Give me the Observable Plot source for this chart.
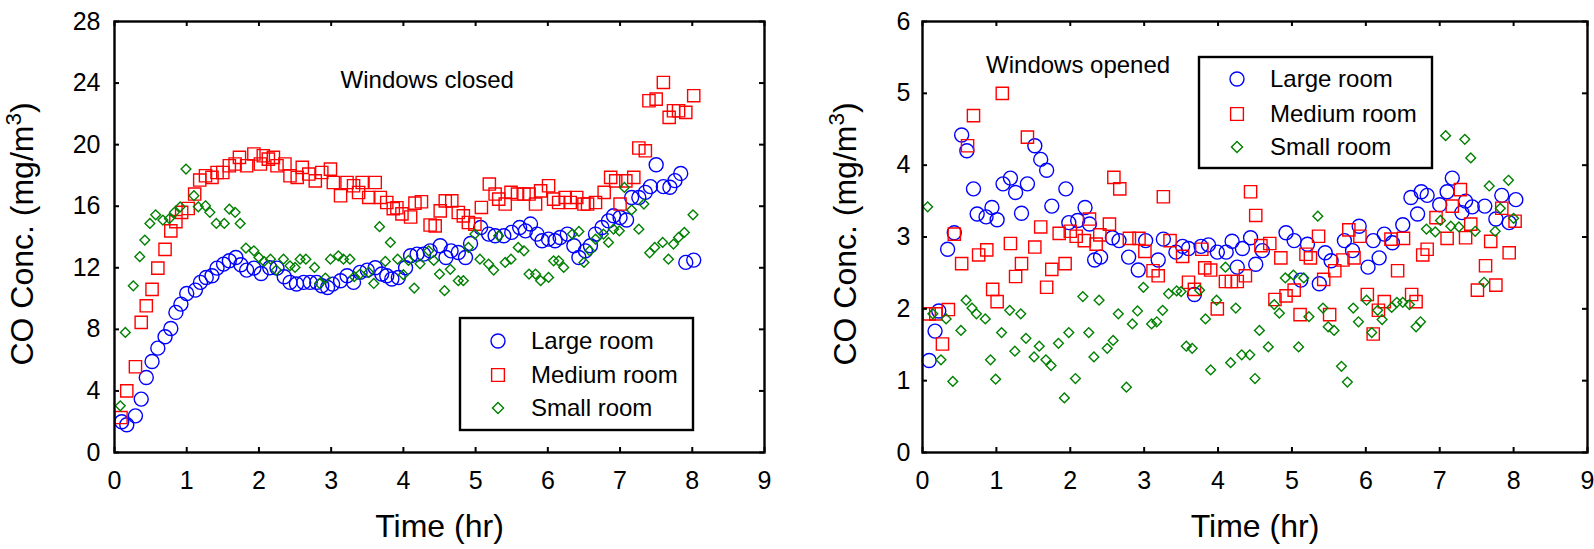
<!DOCTYPE html>
<html>
<head>
<meta charset="utf-8">
<script src="https://cdn.jsdelivr.net/npm/d3@7"></script>
<script src="https://cdn.jsdelivr.net/npm/@observablehq/plot@0.6"></script>
<style>
  html, body { margin: 0; padding: 0; background: #fff; }
  #wrap { display: flex; width: 1594px; height: 549px; overflow: visible; }
  #wrap svg { overflow: visible; }
</style>
</head>
<body>
<div id="wrap"></div>
<script>
// ---------- tick labels / categories ----------
const xTicks = [0, 1, 2, 3, 4, 5, 6, 7, 8, 9];
const closedYTicks = [0, 4, 8, 12, 16, 20, 24, 28];
const openedYTicks = [0, 1, 2, 3, 4, 5, 6];
const seriesNames = ["Large room", "Medium room", "Small room"];
const seriesColors = ["#0000ff", "#ff0000", "#008000"];
const seriesSymbols = ["circle", "square", "diamond2"];
const xLabel = "Time (hr)";
const yLabel = "CO Conc. (mg/m3)";
const closedNote = "Windows closed";
const openedNote = "Windows opened";

// ---------- Windows closed ----------
const closedLargeT = [0.10,0.17,0.29,0.37,0.44,0.52,0.60,0.70,0.78,0.85,0.92,1.00,1.12,1.19,1.27,1.35,1.42,1.51,1.59,1.68,1.75,1.83,1.93,2.03,2.15,2.25,2.35,2.43,2.52,2.62,2.71,2.80,2.87,2.95,3.02,3.13,3.22,3.31,3.40,3.50,3.61,3.70,3.77,3.84,3.93,4.03,4.10,4.19,4.28,4.37,4.51,4.59,4.66,4.76,4.86,4.93,5.07,5.18,5.27,5.39,5.50,5.61,5.69,5.76,5.85,5.92,6.01,6.10,6.17,6.27,6.36,6.43,6.52,6.59,6.66,6.75,6.84,6.91,7.00,7.09,7.16,7.26,7.35,7.42,7.50,7.60,7.69,7.76,7.84,7.91,8.02];
const closedLargeV = [2.0,1.8,2.38,3.47,4.87,5.91,6.78,7.52,8.06,9.1,9.64,10.33,10.55,11.05,11.37,11.48,11.98,12.24,12.46,12.67,12.2,11.85,11.98,11.63,12.0,11.98,11.42,11.05,10.95,11.05,11.05,11.05,10.83,10.72,10.94,11.16,11.48,11.05,11.7,11.85,12.0,11.6,11.48,11.27,11.37,12.0,12.78,12.89,12.89,13.1,13.43,12.67,13.1,12.99,12.67,13.58,14.62,14.19,14.08,14.08,14.3,14.62,14.4,14.84,14.19,13.76,13.86,13.76,13.97,14.19,13.43,12.67,13.1,13.43,14.19,14.62,15.05,15.38,15.27,15.1,16.57,16.57,16.9,17.27,18.69,17.27,17.23,17.66,18.13,12.35,12.5];

const closedMediumT = [0.09,0.17,0.29,0.37,0.44,0.52,0.60,0.70,0.78,0.85,0.93,1.02,1.11,1.18,1.26,1.35,1.42,1.50,1.59,1.67,1.73,1.83,1.93,2.02,2.06,2.13,2.20,2.25,2.36,2.43,2.53,2.60,2.69,2.78,2.87,2.99,3.03,3.13,3.22,3.31,3.38,3.43,3.52,3.61,3.68,3.77,3.86,3.91,3.98,4.10,4.16,4.25,4.37,4.44,4.51,4.58,4.67,4.76,4.83,4.90,4.99,5.08,5.19,5.27,5.32,5.41,5.49,5.58,5.67,5.74,5.83,5.90,6.01,6.08,6.15,6.24,6.31,6.40,6.50,6.55,6.66,6.78,6.87,6.94,7.00,7.08,7.19,7.26,7.35,7.40,7.50,7.60,7.68,7.74,7.81,7.91,8.02];
const closedMediumV = [2.27,4.0,5.57,8.45,9.53,10.6,11.98,13.2,14.4,15.0,15.6,15.85,16.79,17.7,17.98,17.87,18.19,18.19,18.63,18.74,19.17,18.63,19.39,18.74,19.28,19.06,19.17,18.63,18.74,17.98,17.87,18.52,18.09,17.65,18.19,18.41,17.54,16.68,17.54,17.33,16.89,17.54,16.57,17.54,16.57,16.24,15.84,15.9,15.5,15.3,16.2,16.29,14.78,14.72,15.7,16.35,16.35,15.59,15.37,14.94,14.84,15.92,17.44,16.79,16.46,16.14,16.9,16.79,16.79,16.79,16.14,17.0,17.33,16.46,16.24,16.57,16.24,16.57,16.14,16.14,16.24,16.9,17.87,17.65,16.14,17.65,17.87,19.78,19.6,22.85,22.96,24.04,21.77,22.2,22.2,22.1,23.18];

const closedSmallT = [0.08,0.15,0.26,0.35,0.42,0.49,0.57,0.67,0.76,0.83,0.91,0.99,1.10,1.16,1.26,1.32,1.41,1.52,1.59,1.67,1.74,1.82,1.93,2.00,2.07,2.16,2.24,2.34,2.43,2.50,2.57,2.65,2.77,2.84,2.92,2.99,3.10,3.17,3.26,3.32,3.40,3.52,3.59,3.67,3.75,3.82,3.92,4.00,4.07,4.15,4.23,4.35,4.42,4.50,4.57,4.65,4.76,4.83,4.90,4.99,5.06,5.18,5.25,5.32,5.41,5.49,5.59,5.67,5.74,5.83,5.90,6.01,6.08,6.15,6.22,6.34,6.43,6.50,6.58,6.66,6.77,6.84,6.91,6.99,7.06,7.16,7.26,7.33,7.41,7.48,7.59,7.67,7.74,7.81,7.89,8.01];
const closedSmallV = [3.03,7.8,10.83,12.72,13.8,14.88,15.44,15.1,15.2,15.6,15.96,18.41,16.68,15.96,16.03,15.6,14.88,14.88,15.81,15.6,14.88,13.28,13.1,12.67,12.41,12.56,11.85,12.56,12.13,12.02,12.56,12.56,12.02,10.98,11.33,12.56,12.78,12.56,12.56,11.42,11.59,11.7,10.98,14.67,12.41,13.65,12.56,11.55,12.48,10.68,12.26,13.1,12.48,11.59,10.51,11.9,11.16,11.16,13.32,14.19,12.56,12.24,11.85,14.08,12.35,12.56,13.32,13.1,11.59,11.59,11.16,11.37,12.45,12.45,12.02,14.19,14.36,12.35,13.1,13.86,14.19,13.65,14.51,14.4,17.22,15.76,14.51,16.14,12.97,13.32,13.65,12.56,13.54,13.97,14.3,15.44];

// ---------- Windows opened ----------
const openedLargeT = [0.09,0.17,0.22,0.34,0.43,0.53,0.60,0.69,0.74,0.86,0.94,1.01,1.09,1.19,1.26,1.34,1.42,1.52,1.60,1.68,1.75,1.94,1.98,2.10,2.20,2.26,2.33,2.41,2.57,2.66,2.79,2.92,3.02,3.19,3.26,3.43,3.52,3.60,3.68,3.77,3.87,3.99,4.11,4.19,4.26,4.33,4.44,4.51,4.60,4.92,5.03,5.12,5.21,5.37,5.45,5.53,5.71,5.82,5.91,6.03,6.10,6.18,6.25,6.36,6.50,6.61,6.70,6.75,6.83,7.00,7.10,7.17,7.30,7.35,7.44,7.61,7.76,7.84,7.94,8.03];
const openedLargeV = [1.28,1.69,1.97,2.83,3.06,4.42,4.2,3.67,3.32,3.28,3.41,3.24,3.74,3.82,3.62,3.33,3.74,4.27,4.08,3.93,3.43,3.67,3.2,3.23,3.41,3.18,2.68,2.72,2.99,2.95,2.72,2.54,2.95,2.68,2.97,2.79,2.87,2.84,2.2,2.87,2.89,2.79,2.79,2.94,2.58,2.84,2.99,2.62,2.81,3.06,2.95,2.4,2.9,2.35,2.78,2.67,2.95,2.81,3.15,2.58,2.95,2.71,3.04,2.92,3.17,3.55,3.32,3.63,3.58,3.45,3.63,3.82,3.34,3.5,3.42,3.43,3.25,3.58,3.2,3.52];

const openedMediumT = [0.09,0.18,0.27,0.35,0.43,0.53,0.61,0.69,0.76,0.87,0.95,1.01,1.08,1.19,1.26,1.34,1.42,1.52,1.60,1.68,1.75,1.85,1.93,2.00,2.08,2.19,2.26,2.35,2.40,2.53,2.59,2.67,2.80,2.93,3.01,3.12,3.19,3.26,3.35,3.52,3.60,3.68,3.78,3.82,3.90,3.99,4.10,4.18,4.26,4.37,4.44,4.51,4.58,4.70,4.77,4.85,4.92,5.03,5.11,5.19,5.25,5.36,5.43,5.51,5.58,5.69,5.77,5.84,5.92,6.02,6.10,6.17,6.25,6.34,6.43,6.51,6.62,6.68,6.77,6.83,6.95,7.10,7.17,7.28,7.35,7.42,7.51,7.62,7.69,7.76,7.84,7.94,8.02];
const openedMediumV = [1.93,1.93,1.51,1.99,3.04,2.63,4.27,4.69,2.75,2.82,2.27,2.1,5.0,2.91,2.45,2.63,4.39,2.86,3.14,2.3,2.55,3.05,2.63,3.08,3.01,2.95,3.25,2.9,3.03,3.18,3.83,3.67,2.98,2.98,2.8,2.53,2.46,3.56,2.95,2.73,2.37,2.27,2.83,2.57,2.54,2.0,2.38,2.38,2.38,2.46,3.63,3.3,2.88,2.91,2.13,2.71,2.18,2.26,1.92,2.76,2.71,3.01,2.41,1.92,2.53,2.68,3.1,2.71,3.01,2.2,1.65,1.98,2.1,2.97,2.53,2.98,2.2,2.1,2.75,2.83,3.27,2.98,3.43,3.66,2.99,3.18,2.26,2.6,2.94,2.33,3.4,2.78,3.22];

const openedSmallT = [0.07,0.14,0.25,0.32,0.41,0.52,0.59,0.67,0.73,0.85,0.92,0.99,1.07,1.18,1.25,1.33,1.40,1.51,1.58,1.67,1.74,1.84,1.92,1.98,2.07,2.17,2.25,2.32,2.39,2.50,2.58,2.65,2.76,2.84,2.91,2.99,3.10,3.17,3.25,3.33,3.44,3.50,3.57,3.65,3.75,3.83,3.90,3.98,4.10,4.17,4.24,4.32,4.43,4.50,4.56,4.68,4.76,4.83,4.91,5.02,5.09,5.16,5.23,5.35,5.42,5.49,5.57,5.67,5.75,5.83,5.90,6.01,6.08,6.16,6.22,6.35,6.42,6.50,6.59,6.68,6.74,6.82,6.94,7.01,7.08,7.15,7.26,7.34,7.42,7.48,7.60,7.67,7.75,7.82,7.93,8.00];
const openedSmallV = [3.42,1.93,1.29,1.86,0.99,1.7,2.12,2.01,1.93,1.86,1.29,1.02,1.67,1.98,1.41,1.93,1.59,1.33,1.48,1.29,1.21,1.52,0.76,1.67,1.03,2.17,1.67,1.33,2.12,1.45,1.56,1.93,0.91,1.79,1.97,2.3,1.79,1.82,1.98,2.21,2.25,2.24,1.48,1.45,2.26,1.86,1.15,2.12,2.58,1.25,2.01,1.36,1.36,1.03,1.7,1.47,2.06,1.94,2.43,2.47,1.47,2.43,1.89,3.29,2.01,1.75,1.7,1.2,0.98,2.01,1.82,2.12,1.67,1.98,1.85,2.02,2.09,2.09,2.06,1.75,1.82,3.11,3.07,3.23,4.41,3.15,3.14,4.36,4.1,3.08,2.37,3.71,3.08,3.4,3.79,3.26];

// ---------- build ----------
const font = "'Liberation Sans', Arial, Helvetica, sans-serif";
const rows = (T, V) => T.map((t, i) => ({t, v: V[i]}));
const dotSizes = [7, 6.9, 4.4];

function panel(cfg) {
  const {width, height, ml, mr, mt, mb, yMax, yTicks, series, note, noteAt, yDx} = cfg;
  const fw = width - ml - mr, fh = height - mt - mb;
  const marks = [];
  series.forEach((s, i) => {
    marks.push(Plot.dot(s, {x: "t", y: "v", symbol: () => seriesSymbols[i], r: dotSizes[i],
      stroke: seriesColors[i], fill: "none", strokeWidth: 1.4}));
  });
  marks.push(
    Plot.ruleX(xTicks, {x: d => d, insetTop: fh - 5, stroke: "black", strokeWidth: 2}),
    Plot.ruleX(xTicks, {x: d => d, insetBottom: fh - 5, stroke: "black", strokeWidth: 2}),
    Plot.ruleY(yTicks, {y: d => d, insetRight: fw - 5, stroke: "black", strokeWidth: 2}),
    Plot.ruleY(yTicks, {y: d => d, insetLeft: fw - 5, stroke: "black", strokeWidth: 2}),
    Plot.frame({stroke: "black", strokeWidth: 2.4}),
    Plot.axisX(xTicks, {tickSize: 0, tickPadding: 19, fontSize: 25, fill: "black", label: null, tickFormat: d => String(d)}),
    Plot.axisY(yTicks, {tickSize: 0, tickPadding: cfg.yPad, fontSize: 25, fill: "black", label: null, tickFormat: d => String(d)}),
    Plot.text([xLabel], {frameAnchor: "bottom", text: d => d, dy: 84, lineAnchor: "bottom", fontSize: 32, fill: "black"}),
    Plot.text([yLabel], {frameAnchor: "left", text: d => d, rotate: -90, dx: yDx, dy: -3, lineAnchor: "bottom", textAnchor: "middle", fontSize: 32, fill: "black"}),
    Plot.text([note], {x: noteAt[0], y: noteAt[1], text: d => d, textAnchor: "start", lineAnchor: "bottom", fontSize: 24, fill: "black"})
  );
  const svg = Plot.plot({
    width, height, marginLeft: ml, marginRight: mr, marginTop: mt, marginBottom: mb,
    style: {fontFamily: font, color: "black", background: "white", overflow: "visible"},
    x: {domain: [0, 9]},
    y: {domain: [0, yMax]},
    marks
  });
  // superscript on the y label
  d3.select(svg).selectAll("text").filter(function() { return this.textContent === yLabel; })
    .each(function() {
      const el = d3.select(this);
      el.text(null);
      el.append("tspan").text(yLabel.slice(0, -2));
      el.append("tspan").attr("baseline-shift", "super").attr("font-size", "0.7em").text(yLabel.slice(-2, -1));
      el.append("tspan").text(yLabel.slice(-1));
    });
  // legend
  const L = cfg.legend;
  const g = d3.select(svg).append("g").attr("font-family", font).attr("font-size", 24).attr("text-anchor", "start");
  g.append("rect").attr("x", L.x0).attr("y", L.y0).attr("width", L.x1 - L.x0).attr("height", L.y1 - L.y0)
    .attr("fill", "white").attr("stroke", "black").attr("stroke-width", 2.4);
  const symTypes = [d3.symbolCircle, d3.symbolSquare, d3.symbolDiamond2];
  const legR = [7, 7.2, 5];
  seriesNames.forEach((name, i) => {
    g.append("path").attr("transform", `translate(${L.mx},${L.rows[i]})`)
      .attr("d", d3.symbol(symTypes[i], Math.PI * legR[i] * legR[i])())
      .attr("fill", "none").attr("stroke", seriesColors[i]).attr("stroke-width", 1.4);
    g.append("text").attr("x", L.tx).attr("y", L.rows[i]).attr("dy", "0.35em")
      .attr("text-anchor", "start").attr("fill", "black").text(name);
  });
  return svg;
}

const wrap = document.getElementById("wrap");
wrap.appendChild(panel({
  width: 797, height: 549, ml: 114, mr: 33, mt: 21, mb: 97, yMax: 28, yTicks: closedYTicks, yPad: 14,
  series: [rows(closedLargeT, closedLargeV), rows(closedMediumT, closedMediumV), rows(closedSmallT, closedSmallV)],
  note: closedNote, noteAt: [3.13, 23.7], yDx: -82,
  legend: {x0: 460, y0: 318, x1: 693, y1: 430, mx: 498, tx: 531, rows: [341, 375, 408]}
}));
wrap.appendChild(panel({
  width: 797, height: 549, ml: 125, mr: 7, mt: 21, mb: 97, yMax: 6, yTicks: openedYTicks, yPad: 12,
  series: [rows(openedLargeT, openedLargeV), rows(openedMediumT, openedMediumV), rows(openedSmallT, openedSmallV)],
  note: openedNote, noteAt: [0.86, 5.28], yDx: -67,
  legend: {x0: 402, y0: 57, x1: 635, y1: 168, mx: 440, tx: 473, rows: [79, 114, 147]}
}));
</script>
</body>
</html>
